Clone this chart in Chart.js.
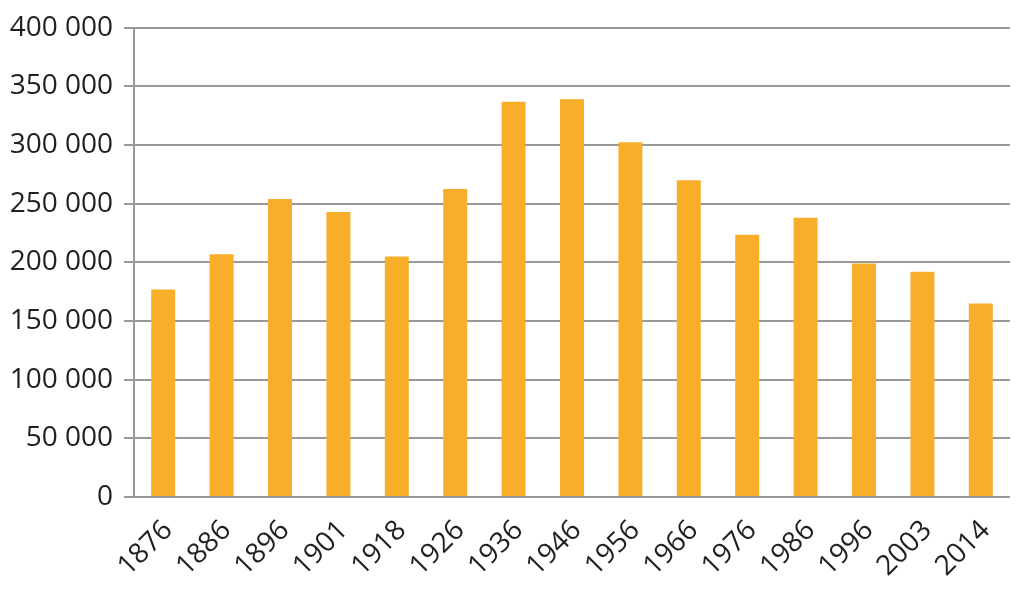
<!DOCTYPE html>
<html>
<head>
<meta charset="utf-8">
<script src="https://cdn.jsdelivr.net/npm/chart.js@4"></script>
<style>
  html, body { margin: 0; padding: 0; background: #fff; }
  #wrap { width: 1024px; height: 595px; }
</style>
</head>
<body>
<div id="wrap"><canvas id="chart1"></canvas></div>
<script>
// data
const years = ['1876', '1886', '1896', '1901', '1918', '1926', '1936', '1946', '1956', '1966', '1976', '1986', '1996', '2003', '2014'];
const counts = [177000, 207000, 254000, 243000, 205000, 262500, 337000, 339000, 302500, 270000, 223500, 238000, 199000, 192000, 165000];
const yTicks = [0, 50000, 100000, 150000, 200000, 250000, 300000, 350000, 400000];

document.addEventListener("DOMContentLoaded", function () {
    const ctx = document.getElementById('chart1').getContext('2d');
    new Chart(ctx, {
        type: 'bar',
        data: {
            labels: years,
            datasets: [{
                data: counts,
                backgroundColor: '#F9AE2A',
                barPercentage: 0.41,
                categoryPercentage: 1
            }]
        },
        options: {
            responsive: true,
            maintainAspectRatio: false,
            animation: false,
            layout: { padding: { top: 26, right: 14, left: 0, bottom: 0 } },
            plugins: { legend: { display: false }, tooltip: { enabled: false } },
            scales: {
                x: {
                    grid: { display: false },
                    border: { display: false },
                    ticks: {
                        color: '#231F20',
                        font: { family: 'Open Sans', size: 28 },
                        minRotation: 45,
                        maxRotation: 45,
                        padding: 9,
                        labelOffset: 5
                    },
                    afterFit: function (scale) { scale.height = 98; }
                },
                y: {
                    min: 0,
                    max: 400000,
                    afterBuildTicks: function (scale) {
                        scale.ticks = yTicks.map(v => ({ value: v }));
                    },
                    grid: { color: '#999999', lineWidth: 2, tickLength: 10 },
                    border: { color: '#999999', width: 2 },
                    ticks: {
                        color: '#231F20',
                        font: { family: 'Open Sans', size: 28 },
                        padding: 11,
                        callback: v => String(v).replace(/\B(?=(\d{3})+(?!\d))/g, ' ')
                    },
                    afterFit: function (scale) { scale.width = 134; }
                }
            }
        }
    });
});
</script>
</body>
</html>
